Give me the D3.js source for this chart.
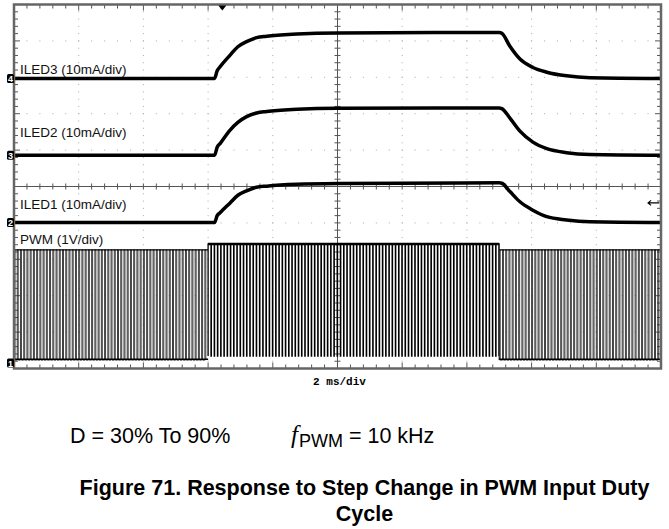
<!DOCTYPE html>
<html>
<head>
<meta charset="utf-8">
<script src="https://cdn.jsdelivr.net/npm/d3@7/dist/d3.min.js"></script>
<style>
  body { margin: 0; background: #fff; }
  svg { display: block; }
</style>
</head>
<body>
<div id="chart-container"></div>
<script>
// Scope traces: time in ms (2 ms/div), level in screen divisions from the bottom
const iled3 = [[0, 7.97], [6.2, 7.97], [6.28, 8.18], [6.37, 8.29], [6.68, 8.61], [6.92, 8.84], [7.19, 8.98],
  [7.5, 9.09], [7.81, 9.13], [8.75, 9.19], [10, 9.22], [15.0, 9.23], [15.08, 9.21], [15.33, 8.85],
  [15.64, 8.5], [16.04, 8.27], [16.47, 8.14], [17.08, 8.04], [17.8, 7.99], [20, 7.97]];
const iled2 = [[0, 5.86], [6.2, 5.86], [6.28, 6.08], [6.37, 6.18], [6.68, 6.55], [6.92, 6.76], [7.19, 6.92],
  [7.5, 7.02], [7.81, 7.06], [8.75, 7.12], [10, 7.15], [15.0, 7.16], [15.08, 7.14], [15.33, 6.88],
  [15.64, 6.52], [16.04, 6.22], [16.47, 6.04], [17.08, 5.93], [17.8, 5.88], [20, 5.86]];
const iled1 = [[0, 4.01], [6.2, 4.01], [6.28, 4.2], [6.37, 4.28], [6.68, 4.55], [6.92, 4.76], [7.19, 4.88],
  [7.5, 4.98], [7.81, 5.01], [8.75, 5.06], [10, 5.08], [15.0, 5.10], [15.08, 5.09], [15.33, 4.86],
  [15.64, 4.58], [16.04, 4.35], [16.47, 4.17], [17.08, 4.08], [17.8, 4.03], [20, 4.01]];

// PWM input: 10 kHz, duty 30% -> 90% -> 30%
const pwmStepsMs = [0, 6.0, 15.0, 20];
const pwmDutyPct = [30, 90, 30];
const pwmFreqKHz = 10;
const pwmHighDiv = [3.26, 3.42, 3.26];
const pwmLowDiv = [0.23, 0.34, 0.23];

const traceLabels = ["ILED3 (10mA/div)", "ILED2 (10mA/div)", "ILED1 (10mA/div)", "PWM (1V/div)"];
const channelMarks = ["4", "3", "2", "1"];
const channelLevels = [7.97, 5.86, 4.01, 0.15];

const W = 669, H = 529;
const plotL = 14, plotR = 661, plotT = 4.5, plotB = 368.5;

const svg = d3.select("#chart-container")
  .append("svg")
  .attr("width", W)
  .attr("height", H);

const x = d3.scaleLinear().domain([0, 20]).range([plotL, plotR]);
const y = d3.scaleLinear().domain([0, 10]).range([plotB, plotT]);

// dotted graticule
const grid = svg.append("g");
const minor = d3.range(0, 10.001, 0.2);
const minorT = d3.range(0, 20.001, 0.4);
d3.range(1, 10).forEach(d => {
  if (d === 5) return;
  minorT.forEach(t => grid.append("rect")
    .attr("x", x(t) - 0.5).attr("y", y(d) - 0.5).attr("width", 1).attr("height", 1).attr("fill", "#aaa"));
});
d3.range(2, 20, 2).forEach(t => {
  if (t === 10) return;
  minor.forEach(d => grid.append("rect")
    .attr("x", x(t) - 0.5).attr("y", y(d) - 0.5).attr("width", 1).attr("height", 1).attr("fill", "#aaa"));
});

// center cross with ticks
grid.append("line").attr("x1", x(10)).attr("x2", x(10)).attr("y1", y(0)).attr("y2", y(10))
  .attr("stroke", "#555").attr("stroke-width", 1);
grid.append("line").attr("x1", x(0)).attr("x2", x(20)).attr("y1", y(5)).attr("y2", y(5))
  .attr("stroke", "#555").attr("stroke-width", 1);
minor.forEach(d => grid.append("line").attr("x1", x(10) - 3).attr("x2", x(10) + 3)
  .attr("y1", y(d)).attr("y2", y(d)).attr("stroke", "#555"));
minorT.forEach(t => grid.append("line").attr("x1", x(t)).attr("x2", x(t))
  .attr("y1", y(5) - 3).attr("y2", y(5) + 3).attr("stroke", "#555"));

// edge ticks
minorT.forEach((t, i) => {
  const len = i % 5 === 0 ? 6 : 4;
  grid.append("line").attr("x1", x(t)).attr("x2", x(t)).attr("y1", y(10)).attr("y2", y(10) + len).attr("stroke", "#555");
  grid.append("line").attr("x1", x(t)).attr("x2", x(t)).attr("y1", y(0)).attr("y2", y(0) - len).attr("stroke", "#555");
});
minor.forEach((d, i) => {
  const len = i % 5 === 0 ? 6 : 4;
  grid.append("line").attr("x1", x(0)).attr("x2", x(0) + len).attr("y1", y(d)).attr("y2", y(d)).attr("stroke", "#555");
  grid.append("line").attr("x1", x(20)).attr("x2", x(20) - len).attr("y1", y(d)).attr("y2", y(d)).attr("stroke", "#555");
});

// trace labels
const labelY = [8.1, 6.36, 4.38, 3.42];
traceLabels.forEach((s, i) => {
  svg.append("text")
    .attr("x", 20).attr("y", y(labelY[i]))
    .attr("font-family", "Liberation Sans, Arial, sans-serif")
    .attr("font-size", 13.5)
    .attr("fill", "#111")
    .text(s);
});

// PWM waveform, one path per duty segment
const T = 1 / pwmFreqKHz;
pwmDutyPct.forEach((duty, i) => {
  const n = Math.round((pwmStepsMs[i + 1] - pwmStepsMs[i]) / T);
  const hi = y(pwmHighDiv[i]), lo = y(pwmLowDiv[i]);
  let p = `M${x(pwmStepsMs[i])},${i === 0 ? lo : y(pwmHighDiv[i - 1])}`;
  for (let k = 0; k < n; k++) {
    const t0 = pwmStepsMs[i] + k * T;
    const t1 = t0 + duty / 100 * T;
    p += `L${x(t0)},${lo}L${x(t0)},${hi}L${x(t1)},${hi}L${x(t1)},${lo}`;
  }
  const dense = duty > 50;
  svg.append("path")
    .attr("d", p)
    .attr("fill", "none")
    .attr("stroke", dense ? "#000" : "#2a2a2a")
    .attr("stroke-width", dense ? 1.3 : 0.9);
  // rails of the trace
  svg.append("line")
    .attr("x1", x(pwmStepsMs[i])).attr("x2", x(pwmStepsMs[i + 1]))
    .attr("y1", hi).attr("y2", hi)
    .attr("stroke", "#000")
    .attr("stroke-width", dense ? 2.5 : 1.2);
  if (!dense) {
    svg.append("line")
      .attr("x1", x(pwmStepsMs[i])).attr("x2", x(pwmStepsMs[i + 1]))
      .attr("y1", lo - 1).attr("y2", lo - 1)
      .attr("stroke", "#000")
      .attr("stroke-width", 1.5);
  }
});

// LED current traces
const line = d3.line()
  .x(d => x(d[0]))
  .y(d => y(d[1]))
  .curve(d3.curveMonotoneX);

[iled3, iled2, iled1].forEach(data => {
  svg.append("path")
    .datum(data)
    .attr("fill", "none")
    .attr("stroke", "#000")
    .attr("stroke-width", 3.5)
    .attr("d", line);
});

// frame
svg.append("rect")
  .attr("x", plotL).attr("y", plotT)
  .attr("width", plotR - plotL).attr("height", plotB - plotT)
  .attr("fill", "none")
  .attr("stroke", "#666")
  .attr("stroke-width", 2.5);

// channel markers
channelMarks.forEach((m, i) => {
  const cy = y(channelLevels[i]);
  svg.append("rect").attr("x", 7).attr("y", cy - 4.5).attr("width", 7).attr("height", 9)
    .attr("rx", 1.5).attr("fill", "#000");
  svg.append("text").attr("x", 10.5).attr("y", cy + 3.5)
    .attr("text-anchor", "middle")
    .attr("font-family", "Liberation Sans, Arial, sans-serif")
    .attr("font-size", 9).attr("font-weight", "bold")
    .attr("fill", "#fff").text(m);
});

// trigger position and level markers
svg.append("path")
  .attr("d", `M${x(6.44) - 4},${plotT + 1}L${x(6.44) + 4},${plotT + 1}L${x(6.44)},${plotT + 6}Z`)
  .attr("fill", "#000");
svg.append("path")
  .attr("d", `M${x(19.95)},${y(4.55)}L${x(19.6)},${y(4.55)}M${x(19.6) + 3},${y(4.55) - 2.5}L${x(19.6)},${y(4.55)}L${x(19.6) + 3},${y(4.55) + 2.5}`)
  .attr("fill", "none").attr("stroke", "#000").attr("stroke-width", 1.2);

// time base
svg.append("text")
  .attr("x", x(10) + 2).attr("y", 385)
  .attr("text-anchor", "middle")
  .attr("font-family", "Liberation Mono, Courier New, monospace")
  .attr("font-size", 11).attr("font-weight", "bold")
  .text("2 ms/div");

// conditions
svg.append("text")
  .attr("x", 70).attr("y", 443)
  .attr("font-family", "Liberation Sans, Arial, sans-serif")
  .attr("font-size", 21.5)
  .text("D = 30% To 90%");
const fText = svg.append("text")
  .attr("x", 291).attr("y", 443)
  .attr("font-family", "Liberation Sans, Arial, sans-serif")
  .attr("font-size", 21.5);
fText.append("tspan").attr("font-style", "italic").attr("font-family", "Liberation Serif, serif").attr("font-size", 25).text("f");
fText.append("tspan").attr("dy", 4).attr("dx", 1).attr("font-size", 18).text("PWM");
fText.append("tspan").attr("dy", -4).text(" = 10 kHz");

// caption
svg.append("text")
  .attr("x", 364.5).attr("y", 495)
  .attr("text-anchor", "middle")
  .attr("font-family", "Liberation Sans, Arial, sans-serif")
  .attr("font-size", 21.5).attr("font-weight", "bold")
  .text("Figure 71. Response to Step Change in PWM Input Duty");
svg.append("text")
  .attr("x", 364.5).attr("y", 521)
  .attr("text-anchor", "middle")
  .attr("font-family", "Liberation Sans, Arial, sans-serif")
  .attr("font-size", 21.5).attr("font-weight", "bold")
  .text("Cycle");
</script>
</body>
</html>
